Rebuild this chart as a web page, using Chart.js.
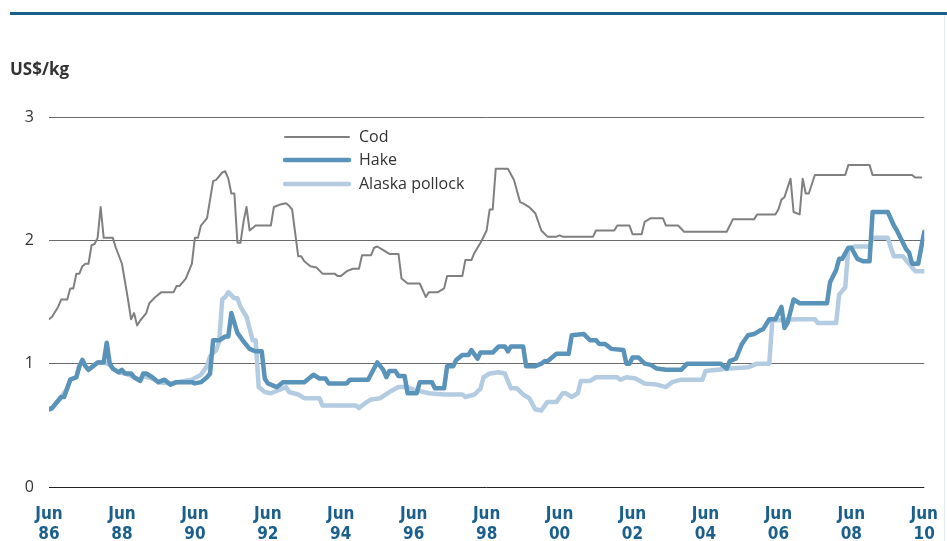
<!DOCTYPE html>
<html>
<head>
<meta charset="utf-8">
<script src="https://cdn.jsdelivr.net/npm/chart.js@4"></script>
<style>
  html, body { margin: 0; padding: 0; background: #fff; }
  .wrap { position: relative; width: 947px; height: 541px; overflow: hidden; }
  .rule { position: absolute; left: 10px; right: 0; top: 12px; height: 3px; background: #1b5f8c; }
  .edge { position: absolute; right: 2px; top: 15px; bottom: 0; width: 1px; background: #e3eaf0; }
  canvas { position: absolute; left: 0; top: 0; }
</style>
</head>
<body>
<div class="wrap">
  <div class="rule"></div>
  <div class="edge"></div>
  <canvas id="priceChart" width="947" height="541"></canvas>
</div>
<script>
// months since June 1986, US$/kg
const codSeries = [[0,1.36],[1,1.38],[3,1.46],[4,1.52],[6,1.52],[7,1.61],[8,1.61],[9,1.73],[10,1.73],[11,1.79],[12,1.81],[13,1.81],[14,1.96],[15,1.97],[16,2.02],[17,2.27],[18,2.02],[21,2.02],[22,1.94],[24,1.81],[26,1.52],[27,1.36],[28,1.41],[29,1.31],[30,1.35],[32,1.41],[33,1.49],[35,1.54],[37,1.58],[41,1.58],[42,1.63],[43,1.63],[45,1.69],[47,1.81],[48,2.02],[49,2.02],[50,2.12],[52,2.18],[54,2.48],[55,2.49],[57,2.55],[58,2.56],[59,2.50],[60,2.38],[61,2.38],[62,1.98],[63,1.98],[64,2.15],[65,2.27],[66,2.08],[67,2.10],[68,2.12],[73,2.12],[74,2.27],[76,2.29],[78,2.30],[79,2.28],[80,2.25],[82,1.87],[83,1.87],[84,1.83],[86,1.79],[88,1.78],[90,1.73],[94,1.73],[95,1.71],[96,1.71],[98,1.75],[100,1.77],[102,1.77],[103,1.88],[106,1.88],[107,1.94],[108,1.95],[110,1.92],[112,1.89],[115,1.89],[116,1.69],[118,1.65],[122,1.65],[124,1.54],[125,1.58],[128,1.58],[130,1.61],[131,1.71],[136,1.71],[137,1.84],[139,1.84],[140,1.90],[142,1.98],[144,2.08],[145,2.25],[146,2.25],[147,2.58],[151,2.58],[153,2.49],[155,2.31],[156,2.30],[158,2.27],[160,2.22],[162,2.08],[164,2.03],[167,2.03],[168,2.04],[169,2.03],[179,2.03],[180,2.08],[186,2.08],[187,2.12],[191,2.12],[192,2.05],[195,2.05],[196,2.15],[198,2.18],[202,2.18],[203,2.12],[207,2.12],[209,2.07],[223,2.07],[225,2.17],[232,2.17],[233,2.21],[239,2.21],[240,2.25],[241,2.33],[242,2.35],[244,2.50],[245,2.23],[247,2.21],[248,2.50],[249,2.38],[250,2.38],[252,2.53],[262,2.53],[263,2.61],[270,2.61],[271,2.53],[284,2.53],[285,2.51],[287,2.51]];

const hakeSeries = [[0,0.63],[1,0.64],[4,0.73],[5,0.73],[6,0.80],[7,0.87],[9,0.89],[10,0.98],[11,1.03],[12,0.98],[13,0.95],[15,0.99],[16,1.01],[18,1.01],[19,1.17],[20,1.00],[21,0.96],[23,0.93],[24,0.95],[25,0.92],[27,0.92],[28,0.89],[30,0.86],[31,0.92],[32,0.92],[34,0.89],[35,0.87],[36,0.85],[38,0.87],[40,0.83],[42,0.85],[47,0.85],[48,0.84],[50,0.85],[52,0.89],[53,0.92],[54,1.19],[56,1.19],[58,1.22],[59,1.22],[60,1.41],[62,1.25],[64,1.18],[66,1.12],[68,1.10],[70,1.10],[71,0.88],[72,0.84],[75,0.81],[77,0.85],[84,0.85],[86,0.89],[87,0.91],[89,0.88],[91,0.88],[92,0.84],[98,0.84],[99,0.87],[105,0.87],[108,1.01],[110,0.95],[111,0.89],[112,0.94],[114,0.94],[115,0.90],[117,0.90],[118,0.76],[121,0.76],[122,0.85],[126,0.85],[127,0.80],[130,0.80],[131,0.98],[133,0.98],[134,1.03],[136,1.07],[138,1.07],[139,1.11],[141,1.04],[142,1.09],[146,1.09],[148,1.14],[150,1.14],[151,1.10],[152,1.14],[156,1.14],[157,0.98],[160,0.98],[162,1.00],[163,1.02],[164,1.02],[167,1.08],[171,1.08],[172,1.23],[176,1.24],[178,1.19],[180,1.19],[181,1.16],[183,1.16],[185,1.12],[189,1.11],[190,1.00],[191,1.00],[192,1.05],[194,1.05],[196,1.00],[198,0.99],[200,0.96],[203,0.95],[208,0.95],[210,1.00],[221,1.00],[223,0.96],[224,1.02],[226,1.04],[228,1.16],[230,1.23],[232,1.24],[234,1.27],[235,1.28],[237,1.36],[239,1.36],[241,1.46],[242,1.29],[243,1.33],[245,1.52],[247,1.49],[256,1.49],[257,1.66],[259,1.76],[260,1.85],[261,1.85],[263,1.94],[264,1.94],[266,1.85],[268,1.83],[270,1.83],[271,2.23],[276,2.23],[278,2.12],[279,2.08],[280,2.03],[282,1.93],[283,1.90],[284,1.81],[286,1.81],[288,2.07]];

const pollockSeries = [[0,0.63],[1,0.64],[4,0.73],[6,0.80],[7,0.87],[9,0.89],[10,0.98],[11,1.03],[12,0.98],[13,0.95],[15,0.99],[16,1.01],[18,1.01],[20,0.99],[21,0.96],[23,0.93],[25,0.92],[28,0.89],[30,0.86],[31,0.90],[34,0.88],[36,0.85],[40,0.84],[42,0.85],[47,0.87],[50,0.91],[52,0.98],[53,1.06],[55,1.11],[56,1.18],[57,1.52],[58,1.54],[59,1.58],[61,1.53],[62,1.53],[63,1.46],[65,1.38],[67,1.19],[68,1.19],[69,0.81],[71,0.77],[73,0.76],[76,0.79],[78,0.81],[79,0.77],[82,0.75],[84,0.72],[89,0.72],[90,0.66],[101,0.66],[102,0.64],[104,0.68],[106,0.71],[109,0.72],[112,0.77],[115,0.81],[118,0.81],[120,0.79],[125,0.76],[130,0.75],[136,0.75],[137,0.73],[140,0.75],[142,0.80],[143,0.89],[145,0.92],[148,0.93],[150,0.92],[152,0.80],[154,0.80],[156,0.75],[158,0.72],[160,0.63],[162,0.62],[164,0.69],[167,0.69],[169,0.76],[170,0.76],[172,0.73],[174,0.76],[175,0.86],[178,0.86],[180,0.89],[187,0.89],[188,0.87],[190,0.89],[193,0.88],[196,0.84],[200,0.83],[203,0.81],[205,0.85],[208,0.87],[215,0.87],[216,0.94],[220,0.95],[224,0.96],[230,0.97],[233,1.00],[237,1.00],[238,1.35],[246,1.36],[252,1.36],[253,1.33],[259,1.33],[260,1.56],[262,1.62],[263,1.93],[265,1.95],[270,1.95],[271,2.02],[276,2.02],[277,1.94],[278,1.87],[281,1.87],[283,1.81],[285,1.75],[288,1.75]];

const seriesNames = ["Cod", "Hake", "Alaska pollock"];
const tickMonths = [0, 24, 48, 72, 96, 120, 144, 168, 192, 216, 240, 264, 288];
const tickYears = ["86", "88", "90", "92", "94", "96", "98", "00", "02", "04", "06", "08", "10"];
const yTicks = [0, 1, 2, 3];

const toPoints = (s) => s.map(([m, v]) => ({ x: m, y: v }));

// legend drawn inside the plot, top left of the middle
const insideLegend = {
  id: "insideLegend",
  afterDraw(chart) {
    const ctx = chart.ctx;
    const rows = [137, 160, 184];
    ctx.save();
    chart.data.datasets.forEach((ds, i) => {
      ctx.strokeStyle = ds.borderColor;
      ctx.lineWidth = ds.borderWidth;
      ctx.lineCap = "round";
      ctx.beginPath();
      ctx.moveTo(285, rows[i]);
      ctx.lineTo(349, rows[i]);
      ctx.stroke();
      ctx.fillStyle = "#333";
      ctx.font = "16px 'Open Sans', sans-serif";
      ctx.textBaseline = "middle";
      ctx.fillText(ds.label, 359, rows[i]);
    });
    // unit label
    ctx.font = "bold 17px 'Open Sans', sans-serif";
    ctx.fillStyle = "#333";
    ctx.textBaseline = "alphabetic";
    ctx.fillText("US$/kg", 10, 75);
    ctx.restore();
  },
};

new Chart(document.getElementById("priceChart"), {
  type: "line",
  data: {
    datasets: [
      {
        label: seriesNames[0],
        data: toPoints(codSeries),
        borderColor: "#808080",
        borderWidth: 2,
      },
      {
        label: seriesNames[1],
        data: toPoints(hakeSeries),
        borderColor: "#5a93b9",
        borderWidth: 4.5,
      },
      {
        label: seriesNames[2],
        data: toPoints(pollockSeries),
        borderColor: "#b3cce1",
        borderWidth: 4.5,
      },
    ],
  },
  options: {
    responsive: false,
    animation: false,
    devicePixelRatio: 1,
    elements: {
      point: { radius: 0 },
      line: { tension: 0, borderJoinStyle: "round", borderCapStyle: "round" },
    },
    layout: { padding: { top: 117, right: 18, bottom: 0, left: 0 } },
    plugins: { legend: { display: false }, tooltip: { enabled: false } },
    scales: {
      x: {
        type: "linear",
        min: 0,
        max: 288,
        afterBuildTicks: (scale) => {
          scale.ticks = tickMonths.map((v) => ({ value: v }));
        },
        afterFit: (scale) => {
          scale.height = 54;
        },
        grid: { display: false },
        border: { display: false },
        ticks: {
          autoSkip: false,
          maxRotation: 0,
          padding: 9,
          color: "#1b5f8c",
          font: { family: "'Liberation Sans Narrow', 'DejaVu Sans Condensed', sans-serif", size: 17, weight: "bold", lineHeight: 1.2 },
          callback: (v) => ["Jun", tickYears[tickMonths.indexOf(v)]],
        },
      },
      y: {
        min: 0,
        max: 3,
        afterBuildTicks: (scale) => {
          scale.ticks = yTicks.map((v) => ({ value: v }));
        },
        afterFit: (scale) => {
          scale.width = 49;
        },
        grid: {
          drawTicks: false,
          lineWidth: 1,
          color: (c) => (c.tick && c.tick.value === 0 ? "#222" : "#6b6b6b"),
        },
        border: { display: false },
        ticks: {
          padding: 15,
          color: "#333",
          font: { family: "'Open Sans', sans-serif", size: 16 },
        },
      },
    },
  },
  plugins: [insideLegend],
});
</script>
</body>
</html>
